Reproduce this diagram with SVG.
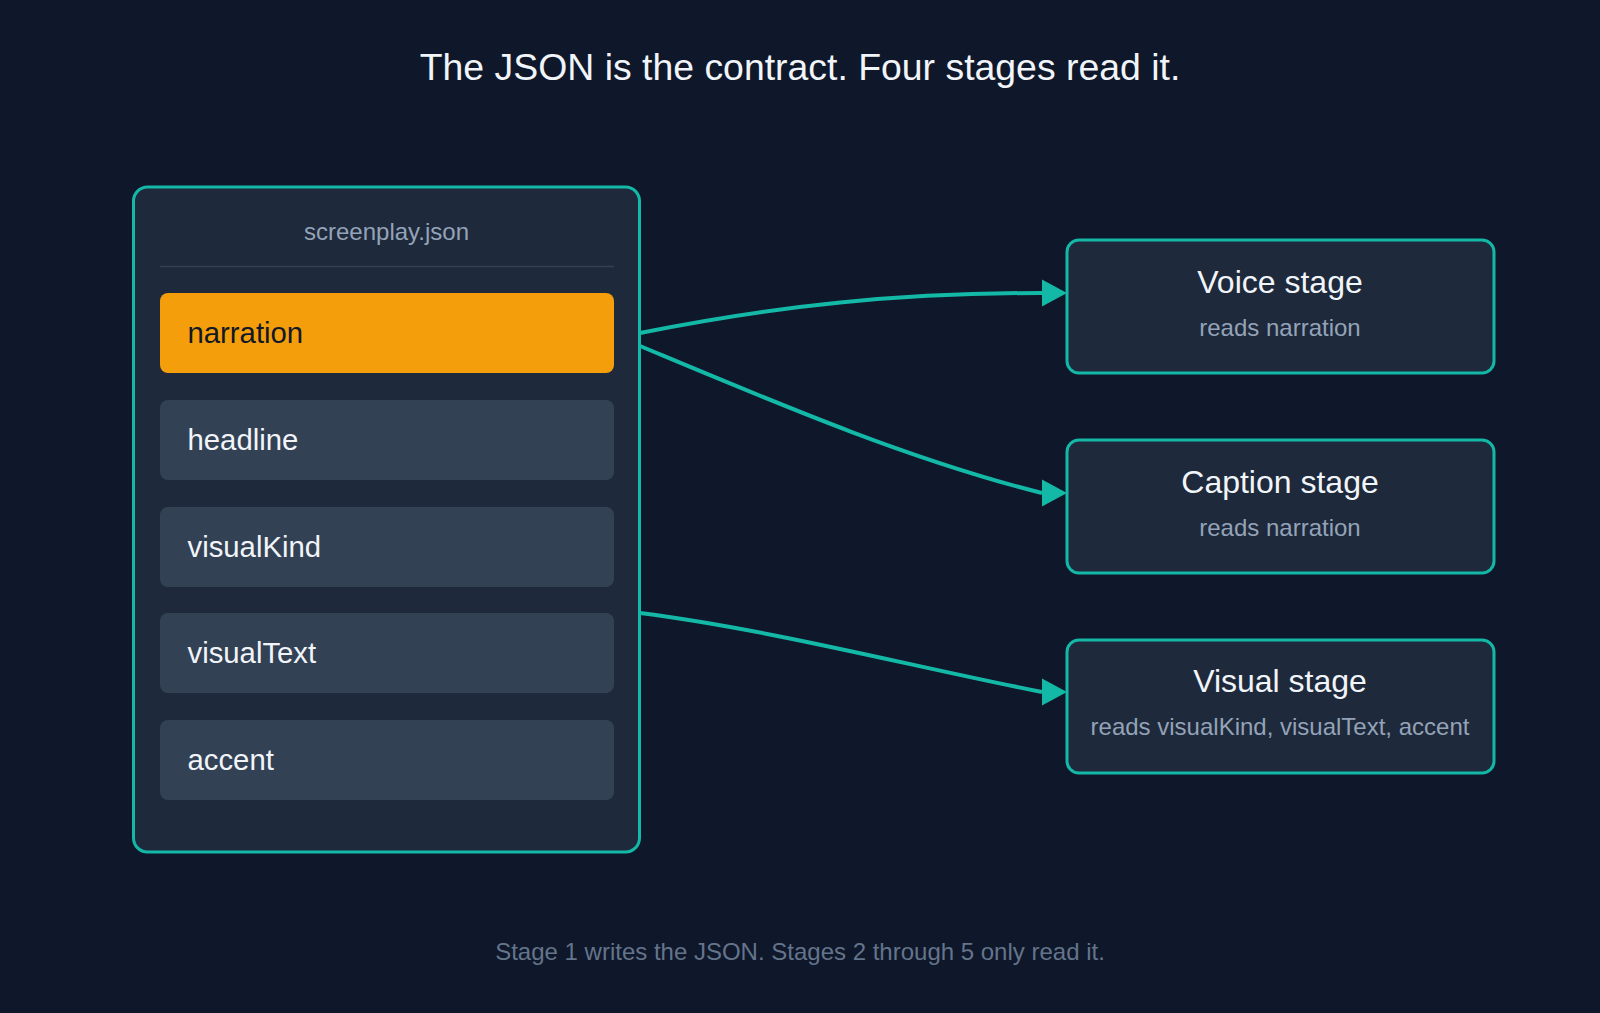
<svg xmlns="http://www.w3.org/2000/svg" width="1600" height="1013" viewBox="0 0 1600 1013">
  <style>
    text { font-family: "Liberation Sans", Arial, Helvetica, sans-serif; }
    .title { font-size: 37.4px; fill: #f1f5f9; text-anchor: middle; }
    .footer { font-size: 24px; fill: #64748b; text-anchor: middle; }
    .panel { fill: #1e293b; stroke: #14b8a6; stroke-width: 3; }
    .panel-label { font-size: 24px; fill: #94a3b8; text-anchor: middle; }
    .row { fill: #334155; }
    .row-hi { fill: #f59e0b; }
    .row-text { font-size: 29.3px; fill: #f1f5f9; }
    .row-text-hi { font-size: 29.3px; fill: #111827; }
    .stage { fill: #1e293b; stroke: #14b8a6; stroke-width: 3; }
    .stage-title { font-size: 32px; fill: #f1f5f9; text-anchor: middle; }
    .stage-sub { font-size: 24px; fill: #94a3b8; text-anchor: middle; }
    .edge { fill: none; stroke: #14b8a6; stroke-width: 4; marker-end: url(#arrow); }
  </style>
  <defs>
    <marker id="arrow" markerUnits="userSpaceOnUse" markerWidth="25" markerHeight="28" viewBox="0 0 25 28" refX="0" refY="14" orient="0">
      <path d="M0,0.5 L25,14 L0,27.5 Z" fill="#14b8a6"/>
    </marker>
  </defs>
  <rect width="1600" height="1013" fill="#0f172a"/>

  <text class="title" x="800" y="80">The JSON is the contract. Four stages read it.</text>

  <g id="screenplay">
    <rect class="panel" x="133.5" y="187" width="506" height="665" rx="14"/>
    <text class="panel-label" x="386.5" y="240">screenplay.json</text>
    <line x1="160" y1="266.5" x2="614" y2="266.5" stroke="#334155" stroke-width="1.5"/>
    <g id="field-narration">
      <rect class="row-hi" x="160" y="293" width="454" height="80" rx="8"/>
      <text class="row-text-hi" x="187.5" y="343">narration</text>
    </g>
    <g id="field-headline">
      <rect class="row" x="160" y="400" width="454" height="80" rx="8"/>
      <text class="row-text" x="187.5" y="450">headline</text>
    </g>
    <g id="field-visualKind">
      <rect class="row" x="160" y="507" width="454" height="80" rx="8"/>
      <text class="row-text" x="187.5" y="557">visualKind</text>
    </g>
    <g id="field-visualText">
      <rect class="row" x="160" y="613" width="454" height="80" rx="8"/>
      <text class="row-text" x="187.5" y="663">visualText</text>
    </g>
    <g id="field-accent">
      <rect class="row" x="160" y="720" width="454" height="80" rx="8"/>
      <text class="row-text" x="187.5" y="770">accent</text>
    </g>
  </g>

  <g id="voice-stage">
    <rect class="stage" x="1067" y="240" width="427" height="133" rx="12"/>
    <text class="stage-title" x="1280" y="293">Voice stage</text>
    <text class="stage-sub" x="1280" y="336">reads narration</text>
  </g>
  <g id="caption-stage">
    <rect class="stage" x="1067" y="440" width="427" height="133" rx="12"/>
    <text class="stage-title" x="1280" y="493">Caption stage</text>
    <text class="stage-sub" x="1280" y="536">reads narration</text>
  </g>
  <g id="visual-stage">
    <rect class="stage" x="1067" y="640" width="427" height="133" rx="12"/>
    <text class="stage-title" x="1280" y="692">Visual stage</text>
    <text class="stage-sub" x="1280" y="735">reads visualKind, visualText, accent</text>
  </g>

  <g id="connectors">
    <path class="edge" d="M640,333 C780,305 900,293 1042,293"/>
    <path class="edge" d="M640,346 C774,402 907,459 1042,493"/>
    <path class="edge" d="M640,613 C773,630 910,666 1042,692"/>
  </g>

  <text class="footer" x="800" y="960">Stage 1 writes the JSON. Stages 2 through 5 only read it.</text>
</svg>
